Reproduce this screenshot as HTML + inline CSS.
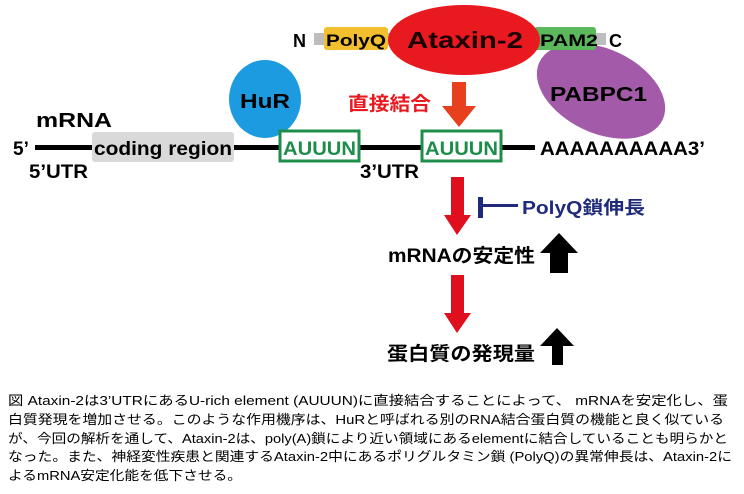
<!DOCTYPE html>
<html><head><meta charset="utf-8"><style>
html,body{margin:0;padding:0;background:#fff;}
svg{display:block}
.b{font-family:"Liberation Sans","Noto Sans CJK JP",sans-serif;font-weight:bold}
.c{font-family:"Liberation Sans","Noto Sans CJK JP",sans-serif;font-size:13px;fill:#000}
</style></head><body>
<svg width="744" height="494" viewBox="0 0 744 494" xmlns="http://www.w3.org/2000/svg">
<ellipse cx="601" cy="91" rx="68" ry="42" fill="#a35aa8" transform="rotate(25 601 91)"/>
<!-- protein bar -->
<rect x="314" y="33" width="292" height="12" fill="#bdbdbd"/>
<rect x="324" y="27" width="64" height="23" rx="3" fill="#f2bf2f"/>
<rect x="534" y="27" width="62" height="23" rx="3" fill="#5cb85c"/>
<ellipse cx="464" cy="40" rx="76" ry="35" fill="#e8191f"/>
<text x="293" y="47" class="b" font-size="18">N</text>
<text x="326" y="46" class="b" font-size="17" textLength="60" lengthAdjust="spacingAndGlyphs">PolyQ</text>
<text x="407" y="48" class="b" font-size="23" fill="#1a0000" textLength="116" lengthAdjust="spacingAndGlyphs">Ataxin-2</text>
<text x="540" y="46" class="b" font-size="17" textLength="58" lengthAdjust="spacingAndGlyphs">PAM2</text>
<text x="609" y="47" class="b" font-size="18">C</text>
<!-- HuR, PABPC1 -->
<ellipse cx="265" cy="99" rx="36" ry="39" fill="#1d9be0"/>
<text x="240" y="108" class="b" font-size="20" textLength="50" lengthAdjust="spacingAndGlyphs">HuR</text>
<text x="550" y="101" class="b" font-size="20" textLength="97" lengthAdjust="spacingAndGlyphs">PABPC1</text>
<!-- 直接結合 -->
<text x="348" y="110" class="b" font-size="19" fill="#e8191f" textLength="83" lengthAdjust="spacingAndGlyphs">直接結合</text>
<polygon points="452,82 466,82 466,106 476,106 459,127 442,106 452,106" fill="#e8401f"/>
<!-- mRNA line -->
<text x="36" y="127" class="b" font-size="20" textLength="76" lengthAdjust="spacingAndGlyphs">mRNA</text>
<rect x="35" y="145" width="500" height="5" fill="#000"/>
<rect x="92" y="132" width="142" height="30" rx="3" fill="#d9d9d9"/>
<text x="94" y="155" class="b" font-size="19" textLength="138" lengthAdjust="spacingAndGlyphs">coding region</text>
<rect x="280" y="131" width="79" height="30" fill="#fff" stroke="#1e8c4a" stroke-width="3"/>
<text x="283" y="155" class="b" font-size="19" fill="#1e8c4a" textLength="73" lengthAdjust="spacingAndGlyphs">AUUUN</text>
<rect x="422" y="131" width="79" height="30" fill="#fff" stroke="#1e8c4a" stroke-width="3"/>
<text x="425" y="155" class="b" font-size="19" fill="#1e8c4a" textLength="73" lengthAdjust="spacingAndGlyphs">AUUUN</text>
<text x="540" y="155" class="b" font-size="19" textLength="165" lengthAdjust="spacingAndGlyphs">AAAAAAAAAA3’</text>
<text x="13" y="155" class="b" font-size="19">5’</text>
<text x="29" y="178" class="b" font-size="19" textLength="59" lengthAdjust="spacingAndGlyphs">5’UTR</text>
<text x="360" y="178" class="b" font-size="19" textLength="59" lengthAdjust="spacingAndGlyphs">3’UTR</text>
<!-- arrows -->
<polygon points="451,177 464,177 464,215 471,215 457,235 444,215 451,215" fill="#e00f1d"/>
<rect x="478" y="197" width="5" height="21" fill="#1f2a7a"/>
<rect x="481" y="204" width="37" height="3" fill="#1f2a7a"/>
<text x="522" y="214" class="b" font-size="18" fill="#1f2a7a" textLength="123" lengthAdjust="spacingAndGlyphs">PolyQ鎖伸長</text>
<text x="388" y="262" class="b" font-size="19" textLength="147" lengthAdjust="spacingAndGlyphs">mRNAの安定性</text>
<polygon points="559,233 578,253 568,253 568,273 550,273 550,253 540,253" fill="#000"/>
<polygon points="451,275 464,275 464,313 471,313 457,333 444,313 451,313" fill="#e00f1d"/>
<text x="387" y="360" class="b" font-size="19" textLength="148" lengthAdjust="spacingAndGlyphs">蛋白質の発現量</text>
<polygon points="557,328 574,346 563,346 563,365 552,365 552,346 540,346" fill="#000"/>
<!-- caption -->
<text class="c" x="8" y="405" textLength="720" lengthAdjust="spacingAndGlyphs">図  Ataxin-2は3’UTRにあるU-rich  element (AUUUN)に直接結合することによって、 mRNAを安定化し、蛋</text>
<text class="c" x="8" y="424" textLength="716" lengthAdjust="spacingAndGlyphs">白質発現を増加させる。このような作用機序は、HuRと呼ばれる別のRNA結合蛋白質の機能と良く似ている</text>
<text class="c" x="8" y="443" textLength="720" lengthAdjust="spacingAndGlyphs">が、今回の解析を通して、Ataxin-2は、poly(A)鎖により近い領域にあるelementに結合していることも明らかと</text>
<text class="c" x="8" y="461" textLength="724" lengthAdjust="spacingAndGlyphs">なった。また、神経変性疾患と関連するAtaxin-2中にあるポリグルタミン鎖 (PolyQ)の異常伸長は、Ataxin-2に</text>
<text class="c" x="8" y="480" textLength="234" lengthAdjust="spacingAndGlyphs">よるmRNA安定化能を低下させる。</text>
</svg>
</body></html>
